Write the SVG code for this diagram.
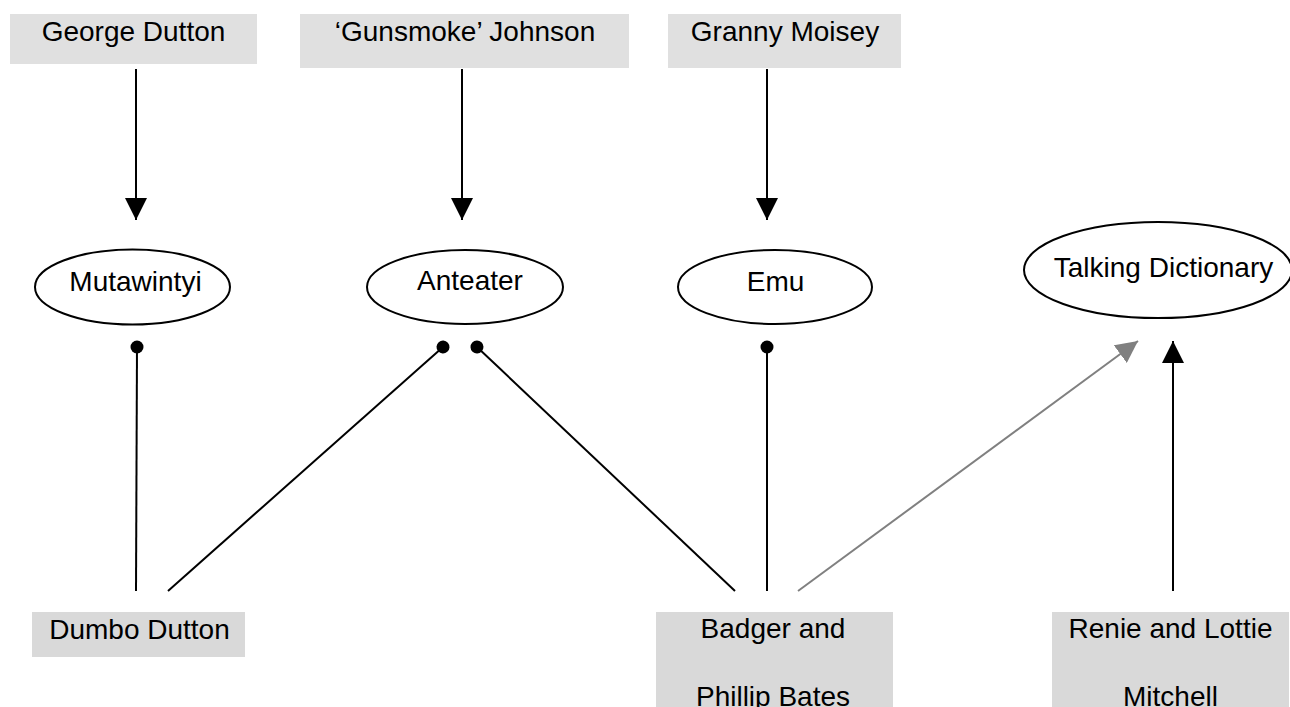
<svg xmlns="http://www.w3.org/2000/svg" width="1290" height="707" viewBox="0 0 1290 707">
<style>
text { font-family: "Liberation Sans", Arial, sans-serif; font-size: 28px; fill: #000; text-anchor: middle; }
.boxTop { fill: #e0e0e0; }
.boxBot { fill: #d9d9d9; }
.ell { fill: #fff; stroke: #000; stroke-width: 2; }
.edge { stroke: #000; stroke-width: 2; fill: none; }
.gray { stroke: #808080; stroke-width: 2; fill: none; }
</style>
<defs>
<marker id="arr" markerUnits="userSpaceOnUse" markerWidth="22" markerHeight="22" refX="22" refY="11" orient="auto" viewBox="0 0 22 22">
<path d="M0,0 L22,11 L0,22 z" fill="#000"/>
</marker>
<marker id="arrGray" markerUnits="userSpaceOnUse" markerWidth="22" markerHeight="22" refX="22" refY="11" orient="auto" viewBox="0 0 22 22">
<path d="M0,0 L22,11 L0,22 z" fill="#808080"/>
</marker>
<marker id="dot" markerUnits="userSpaceOnUse" markerWidth="14" markerHeight="14" refX="7" refY="7" orient="auto" viewBox="0 0 14 14">
<circle cx="7" cy="7" r="6.5" fill="#000"/>
</marker>
</defs>

<g id="connectors">
<line class="edge" x1="136" y1="69" x2="136" y2="220" marker-end="url(#arr)"/>
<line class="edge" x1="462" y1="69" x2="462" y2="220" marker-end="url(#arr)"/>
<line class="edge" x1="767" y1="69" x2="767" y2="220" marker-end="url(#arr)"/>
<line class="edge" x1="136" y1="591" x2="137" y2="347" marker-end="url(#dot)"/>
<line class="edge" x1="168" y1="591" x2="443" y2="347" marker-end="url(#dot)"/>
<line class="edge" x1="735" y1="591" x2="477" y2="347" marker-end="url(#dot)"/>
<line class="edge" x1="767" y1="591" x2="767" y2="347" marker-end="url(#dot)"/>
<line class="gray" x1="798" y1="591" x2="1138" y2="341" marker-end="url(#arrGray)"/>
<line class="edge" x1="1173" y1="591" x2="1173" y2="341" marker-end="url(#arr)"/>
</g>

<g id="george-dutton">
<rect class="boxTop" x="10" y="14" width="247" height="50"/>
<text x="133.5" y="41">George Dutton</text>
</g>
<g id="gunsmoke-johnson">
<rect class="boxTop" x="300" y="14" width="329" height="54"/>
<text x="465" y="41">‘Gunsmoke’ Johnson</text>
</g>
<g id="granny-moisey">
<rect class="boxTop" x="668" y="14" width="233" height="54"/>
<text x="785" y="41">Granny Moisey</text>
</g>

<g id="mutawintyi">
<ellipse class="ell" cx="132.5" cy="287" rx="97.5" ry="37.5"/>
<text x="135.5" y="291">Mutawintyi</text>
</g>
<g id="anteater">
<ellipse class="ell" cx="465" cy="287" rx="98" ry="37"/>
<text x="470" y="290">Anteater</text>
</g>
<g id="emu">
<ellipse class="ell" cx="775" cy="287" rx="97" ry="37"/>
<text x="775.5" y="291">Emu</text>
</g>
<g id="talking-dictionary">
<ellipse class="ell" cx="1158" cy="270" rx="134" ry="48"/>
<text x="1163.5" y="277">Talking Dictionary</text>
</g>

<g id="dumbo-dutton">
<rect class="boxBot" x="32" y="612" width="213" height="45"/>
<text x="139.5" y="639">Dumbo Dutton</text>
</g>
<g id="badger-phillip-bates">
<rect class="boxBot" x="656" y="612" width="237" height="100"/>
<text x="773" y="638">Badger and</text>
<text x="773" y="706">Phillip Bates</text>
</g>
<g id="renie-lottie-mitchell">
<rect class="boxBot" x="1052" y="612" width="237" height="100"/>
<text x="1170.5" y="638">Renie and Lottie</text>
<text x="1170.5" y="706">Mitchell</text>
</g>
</svg>
